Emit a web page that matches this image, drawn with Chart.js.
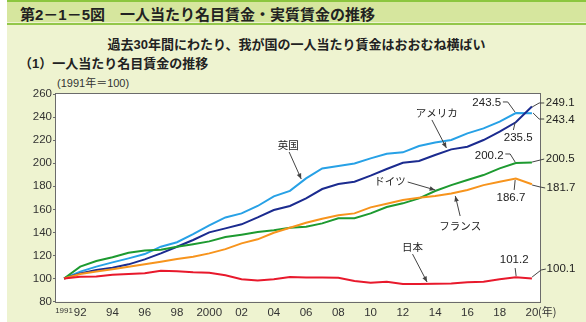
<!DOCTYPE html>
<html lang="ja">
<head>
<meta charset="UTF-8">
<title>第2－1－5図 一人当たり名目賃金・実質賃金の推移</title>
<script src="https://cdn.jsdelivr.net/npm/chart.js"></script>
<style>
    body { margin: 0; background: #fff; font-family: "Liberation Sans", "Noto Sans CJK JP", sans-serif; }
    .page { position: absolute; left: 7px; top: 0; width: 579px; height: 322px; background: #eef3d0; overflow: hidden; }
    .topline { position: absolute; left: 0; top: 0; width: 100%; height: 2px; background: #8cc63f; }
    .band { position: absolute; left: 0; top: 2px; width: 100%; height: 20px; background: #d6e69e; }
    .bandline { position: absolute; left: 0; top: 23px; width: 100%; height: 2px; background: #93c74a; }
    .title { position: absolute; left: 13px; top: 3px; font-size: 15px; font-weight: bold; color: #222; white-space: nowrap; }
    .sub { position: absolute; left: 0; width: 100%; top: 34px; text-align: center; font-size: 13px; font-weight: bold; color: #222; }
    .head { position: absolute; left: 12px; top: 53px; font-size: 13px; font-weight: bold; color: #222; }
    .unit { position: absolute; left: 50px; top: 74px; font-size: 11px; color: #333; }
    .box { position: absolute; left: 0; top: 84px; width: 579px; height: 238px; }
</style>
</head>
<body>
<div class="page">
    <div class="topline"></div>
    <div class="band"></div>
    <div class="bandline"></div>
    <div class="title">第2－1－5図　一人当たり名目賃金・実質賃金の推移</div>
    <div class="sub">過去30年間にわたり、我が国の一人当たり賃金はおおむね横ばい</div>
    <div class="head">（1）一人当たり名目賃金の推移</div>
    <div class="unit">(1991年＝100)</div>
    <div class="box"><canvas id="chart"></canvas></div>
</div>

<script>
    // 1991 = 100
    const years = [1991, 1992, 1993, 1994, 1995, 1996, 1997, 1998, 1999, 2000,
                   2001, 2002, 2003, 2004, 2005, 2006, 2007, 2008, 2009, 2010,
                   2011, 2012, 2013, 2014, 2015, 2016, 2017, 2018, 2019, 2020];

    const uk = [100, 106, 110.3, 114, 117.5, 121.2, 127.6, 131.5, 138.5, 146,
                153, 156.5, 162.9, 171.3, 176, 186.8, 195.5, 197.5, 199.8, 204.2,
                208.2, 209.4, 214.9, 218, 220.1, 225.9, 230.2, 236, 243.5, 243.4];
    const usa = [100, 104.5, 107.4, 109.4, 112.3, 116.6, 121.8, 127.6, 133.4, 140,
                 143.5, 147, 153, 159.4, 162.9, 169.5, 177.6, 182, 184, 189.2,
                 195, 200.4, 201.9, 207.1, 212, 214.3, 220.1, 227.3, 235.5, 249.1];
    const germany = [100, 110.3, 115.2, 118.4, 122.4, 124.4, 125, 127.6, 129.8, 132.2,
                     136, 138, 140.3, 141.8, 144, 144.9, 147.8, 152.2, 152.2, 156.5,
                     162, 165.2, 169.5, 175.9, 181, 185.4, 189.7, 195.5, 200.2, 200.5];
    const france = [100, 104, 106, 108, 110.3, 112.3, 114.6, 116.9, 118.9, 121.8,
                    125.5, 130.5, 134, 139.7, 144, 148.4, 151.9, 154.8, 156.5, 161.7,
                    164.8, 168, 170, 171.5, 173.8, 176.7, 181, 183.9, 186.7, 181.7];
    const japan = [100, 101.6, 101.7, 103.3, 104, 104.5, 106.8, 106.4, 105.4, 105,
                   102.8, 99.4, 98.4, 99.4, 101.3, 101, 101, 100.7, 97.8, 96.4,
                   97.3, 95.2, 95.2, 95.5, 95.8, 96.7, 97.3, 99.3, 101.2, 100.1];

    const tickYears = [1991, 1992, 1994, 1996, 1998, 2000, 2002, 2004, 2006, 2008,
                       2010, 2012, 2014, 2016, 2018, 2020];
    const tickLabels = ['1991', '92', '94', '96', '98', '2000', '02', '04', '06', '08',
                        '10', '12', '14', '16', '18', '20'];

    // callouts: label position and leader line, in (year, value) space
    const callouts = [
        { text: '英国', at: [2004.9, 215.8], path: [[2004.95, 209.7], [2005.7, 186.3]], arrow: true },
        { text: 'アメリカ', at: [2014.1, 243.5], path: [[2013.8, 237.5], [2014.7, 213.2]], arrow: true },
        { text: 'ドイツ', at: [2011.2, 184.6], path: [[2012.3, 183.7], [2014, 176.8]], arrow: true },
        { text: 'フランス', at: [2015.55, 145.5], path: [[2015.55, 154.2], [2015.25, 171.6]], arrow: true },
        { text: '日本', at: [2012.6, 127.3], path: [[2012.6, 121.2], [2013.5, 97]], arrow: true },
        { text: '243.5', at: [2017.2, 252.2], path: [[2018.2, 253.1], [2018.5, 253.1], [2018.95, 244.4]] },
        { text: '235.5', at: [2019.15, 221.9], path: [[2018.85, 228.8], [2018.96, 235.3]] },
        { text: '249.1', at: [2021.75, 252.2], path: [[2020.76, 252.2], [2020.45, 252.2], [2020.01, 248.7]] },
        { text: '243.4', at: [2021.75, 237.5], path: [[2020.76, 238.3], [2020.45, 238.3], [2020.07, 243.5]] },
        { text: '200.2', at: [2017.35, 206.2], path: [[2018.35, 208], [2018.65, 208], [2018.96, 201]] },
        { text: '200.5', at: [2021.75, 203.6], path: [[2020.76, 203.6], [2020.01, 201]] },
        { text: '186.7', at: [2018.7, 169.8], path: [[2018.9, 176.8], [2018.96, 185.4]] },
        { text: '181.7', at: [2021.8, 178.5], path: [[2020.82, 178.5], [2020.5, 179.4], [2020.01, 181.1]] },
        { text: '101.2', at: [2018.9, 116], path: [[2018.96, 109.1], [2019.02, 102.2]] },
        { text: '100.1', at: [2021.8, 108.2], path: [[2020.86, 108.2], [2020.57, 107.4], [2020.01, 101.3]] }
    ];

    const pts = arr => arr.map((v, i) => ({ x: years[i], y: v }));

    const frame = {
        id: 'frame',
        beforeDatasetsDraw(chart) {
            const a = chart.chartArea, ctx = chart.ctx;
            ctx.save();
            ctx.fillStyle = '#fff';
            ctx.fillRect(a.left, a.top, a.right - a.left, a.bottom - a.top);
            ctx.restore();
        },
        afterDatasetsDraw(chart) {
            const a = chart.chartArea, ctx = chart.ctx;
            ctx.save();
            ctx.strokeStyle = '#6b6b6b';
            ctx.lineWidth = 1;
            ctx.strokeRect(Math.round(a.left) - 0.5, Math.round(a.top) - 0.5,
                           Math.round(a.right - a.left) + 1, Math.round(a.bottom - a.top) + 1);
            ctx.restore();
        },
        afterDraw(chart) {
            const ctx = chart.ctx, xs = chart.scales.x, ys = chart.scales.y;
            const px = p => [xs.getPixelForValue(p[0]), ys.getPixelForValue(p[1])];
            ctx.save();
            ctx.lineWidth = 1;
            callouts.forEach(c => {
                const path = c.path.map(px);
                ctx.strokeStyle = '#444';
                ctx.fillStyle = '#444';
                ctx.beginPath();
                path.forEach((p, i) => i ? ctx.lineTo(p[0], p[1]) : ctx.moveTo(p[0], p[1]));
                ctx.stroke();
                if (c.arrow) {
                    const [x2, y2] = path[path.length - 1];
                    const [x1, y1] = path[path.length - 2];
                    const ang = Math.atan2(y2 - y1, x2 - x1);
                    ctx.beginPath();
                    ctx.moveTo(x2, y2);
                    ctx.lineTo(x2 - 6 * Math.cos(ang - 0.4), y2 - 6 * Math.sin(ang - 0.4));
                    ctx.lineTo(x2 - 6 * Math.cos(ang + 0.4), y2 - 6 * Math.sin(ang + 0.4));
                    ctx.closePath();
                    ctx.fill();
                }
                const [tx, ty] = px(c.at);
                ctx.fillStyle = '#222';
                ctx.font = c.arrow ? '10.5px "Noto Sans CJK JP"' : '11.5px "Liberation Sans"';
                ctx.textAlign = 'center';
                ctx.textBaseline = 'middle';
                ctx.fillText(c.text, tx, ty);
            });
            // unit after the last x label
            ctx.fillStyle = '#333';
            ctx.font = '11px "Noto Sans CJK JP"';
            ctx.textAlign = 'left';
            ctx.textBaseline = 'middle';
            ctx.fillText('(年)', xs.getPixelForValue(2020) + 6, chart.chartArea.bottom + 10);
            ctx.restore();
        }
    };

    const line = (data, color) => ({
        data: pts(data),
        borderColor: color,
        borderWidth: 2,
        pointRadius: 0,
        tension: 0,
        fill: false
    });

    new Chart(document.getElementById('chart'), {
        type: 'line',
        data: {
            datasets: [
                line(japan, '#e8192c'),
                line(france, '#f7941d'),
                line(germany, '#1d9a30'),
                line(usa, '#1b2b8f'),
                line(uk, '#27a1e6')
            ]
        },
        options: {
            responsive: true,
            maintainAspectRatio: false,
            animation: false,
            layout: { padding: { top: 10, right: 46, left: 0, bottom: 0 } },
            plugins: { legend: { display: false }, tooltip: { enabled: false } },
            scales: {
                x: {
                    type: 'linear',
                    min: 1990.5,
                    max: 2020.5,
                    afterBuildTicks: s => { s.ticks = tickYears.map(v => ({ value: v })); },
                    afterFit: s => { s.height = 20.4; },
                    grid: { display: false, drawTicks: false },
                    border: { display: false },
                    ticks: {
                        autoSkip: false,
                        maxRotation: 0,
                        padding: 4,
                        color: '#333',
                        font: c => ({ family: 'Liberation Sans', size: c.tick && c.tick.value === 1991 ? 8 : 11.5 }),
                        callback: v => tickLabels[tickYears.indexOf(v)]
                    }
                },
                y: {
                    min: 80,
                    max: 260,
                    afterFit: s => { s.width = 49; },
                    grid: { drawOnChartArea: false, tickLength: 3, color: '#6b6b6b' },
                    border: { display: false },
                    ticks: {
                        stepSize: 20,
                        padding: 1,
                        color: '#333',
                        font: { family: 'Liberation Sans', size: 11.5 }
                    }
                }
            }
        },
        plugins: [frame]
    });
</script>
</body>
</html>
